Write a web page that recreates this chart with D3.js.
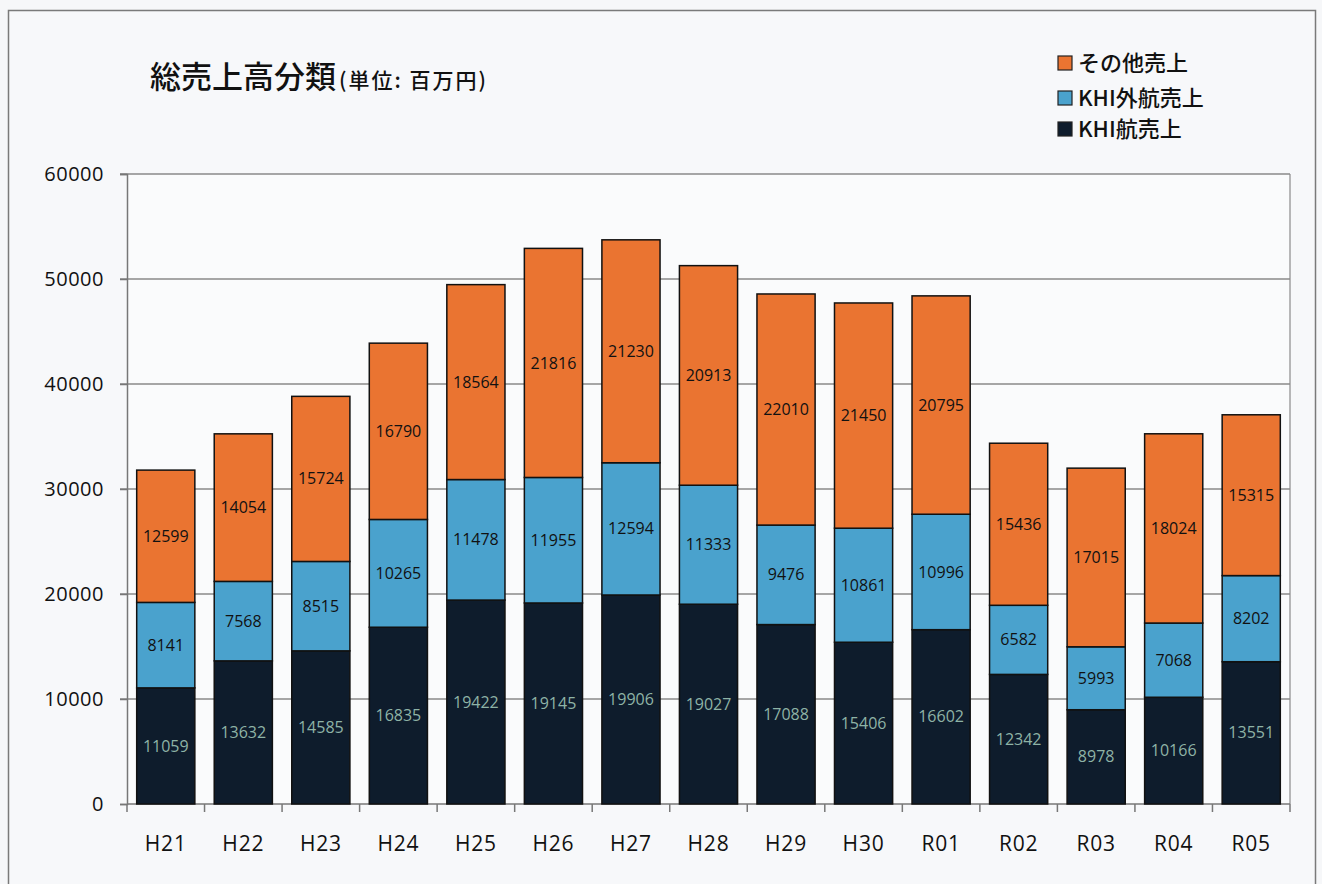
<!DOCTYPE html>
<html><head><meta charset="utf-8">
<script src="https://cdn.jsdelivr.net/npm/d3@7"></script>
<style>
html,body{margin:0;padding:0;background:#f6f7f9;}
svg{display:block;}
</style></head>
<body>
<svg id="c" width="1322" height="884"></svg>
<script>
const categories = ["H21","H22","H23","H24","H25","H26","H27","H28","H29","H30","R01","R02","R03","R04","R05"];
const khiKou = [11059,13632,14585,16835,19422,19145,19906,19027,17088,15406,16602,12342,8978,10166,13551];
const khiGai = [8141,7568,8515,10265,11478,11955,12594,11333,9476,10861,10996,6582,5993,7068,8202];
const sonota = [12599,14054,15724,16790,18564,21816,21230,20913,22010,21450,20795,15436,17015,18024,15315];
const seriesNames = ["KHI航売上","KHI外航売上","その他売上"];
const yTicks = [0,10000,20000,30000,40000,50000,60000];
const colors = ["#0e1c2c","#4aa2cd","#ea7431"];
const labelColors = ["#8eb3a6","#111111","#111111"];

const svg = d3.select("#c");
const jp = "'Noto Sans CJK JP', sans-serif";
const num = "'Open Sans', 'Noto Sans', sans-serif";

// outer frame
svg.append("rect").attr("x",8.5).attr("y",10.5).attr("width",1307).attr("height",900)
  .attr("fill","#f7f8fa").attr("stroke","#7a7a7a").attr("stroke-width",1.5);

const m = {left:127, right:1290, top:174, bottom:804};
const x = d3.scaleBand().domain(categories).range([m.left,m.right]).paddingInner(0.25).paddingOuter(0.125);
const y = d3.scaleLinear().domain([0,60000]).range([m.bottom,m.top]);

// plot area
svg.append("rect").attr("x",m.left).attr("y",m.top).attr("width",m.right-m.left).attr("height",m.bottom-m.top)
  .attr("fill","#fafbfc");

// gridlines
svg.append("g").selectAll("line").data(yTicks.filter(d=>d>0)).join("line")
  .attr("x1",m.left-7).attr("x2",m.right).attr("y1",d=>y(d)).attr("y2",d=>y(d))
  .attr("stroke","#8a8a8a").attr("stroke-width",1.5);
// right border
svg.append("line").attr("x1",m.right).attr("x2",m.right).attr("y1",m.top).attr("y2",m.bottom)
  .attr("stroke","#8a8a8a").attr("stroke-width",1.2);

// y axis
const ya = svg.append("g").attr("transform",`translate(${m.left},0)`)
  .call(d3.axisLeft(y).tickValues(yTicks).tickSize(7).tickPadding(16).tickFormat(d3.format("d")));
ya.select(".domain").attr("stroke","#777").attr("stroke-width",1.5);
ya.selectAll(".tick line").attr("stroke","#777").attr("stroke-width",1.5);
ya.selectAll("text").attr("font-family",num).attr("font-size",20).attr("letter-spacing",0.5).attr("fill","#111");

// x axis
const xTickPos = d3.range(categories.length+1).map(i=>m.left + i*x.step());
const xa = svg.append("g");
xa.append("line").attr("x1",m.left).attr("x2",m.right).attr("y1",m.bottom).attr("y2",m.bottom)
  .attr("stroke","#777").attr("stroke-width",1.5);
xa.selectAll("line.t").data(xTickPos).join("line").attr("class","t")
  .attr("x1",d=>d).attr("x2",d=>d).attr("y1",m.bottom).attr("y2",m.bottom+8)
  .attr("stroke","#777").attr("stroke-width",1.5);
xa.selectAll("text").data(categories).join("text")
  .attr("x",d=>x(d)+x.bandwidth()/2).attr("y",m.bottom+47)
  .attr("text-anchor","middle").attr("font-family",num).attr("font-size",21).attr("letter-spacing",0.8).attr("fill","#111").text(d=>d);

// stacked data
const table = categories.map((c,i)=>({cat:c, s0:khiKou[i], s1:khiGai[i], s2:sonota[i]}));
const stack = d3.stack().keys(["s0","s1","s2"])(table);

stack.forEach((layer,li)=>{
  const g = svg.append("g");
  g.selectAll("rect").data(layer).join("rect")
    .attr("x",d=>x(d.data.cat)).attr("width",x.bandwidth())
    .attr("y",d=>y(d[1])).attr("height",d=>y(d[0])-y(d[1]))
    .attr("fill",colors[li]).attr("stroke","#111").attr("stroke-width",1.5);
  g.selectAll("text").data(layer).join("text")
    .attr("x",d=>x(d.data.cat)+x.bandwidth()/2).attr("y",d=>(y(d[0])+y(d[1]))/2)
    .attr("dy","0.35em").attr("text-anchor","middle")
    .attr("font-family",num).attr("font-size",16).attr("fill",labelColors[li])
    .text(d=>d[1]-d[0]);
});

// title
const t = svg.append("text").attr("x",150).attr("y",88).attr("font-family",jp).attr("fill","#111");
t.append("tspan").attr("font-size",31).attr("font-weight",500).text("総売上高分類");
t.append("tspan").attr("font-size",21).attr("font-weight",500).attr("dx",3).attr("letter-spacing",2).text("(単位: 百万円)");

// legend
const legOrder = [2,1,0];
const lg = svg.append("g");
legOrder.forEach((si,k)=>{
  const yy = [63,98,129][k];
  lg.append("rect").attr("x",1058).attr("y",yy-7).attr("width",14).attr("height",14)
    .attr("fill",colors[si]).attr("stroke","#222").attr("stroke-width",1.2);
  lg.append("text").attr("x",1078).attr("y",yy).attr("dy","0.36em")
    .attr("font-family",jp).attr("font-size",22).attr("font-weight",500).attr("fill","#111")
    .text(seriesNames[si]);
});
</script>
</body></html>
